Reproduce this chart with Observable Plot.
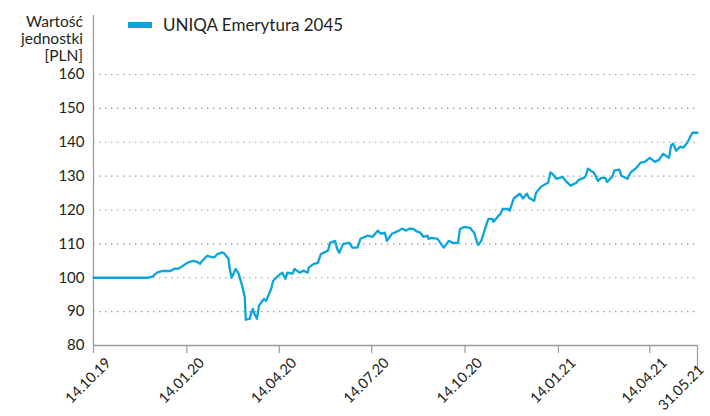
<!DOCTYPE html>
<html>
<head>
<meta charset="utf-8">
<script src="https://cdn.jsdelivr.net/npm/d3@7"></script>
<script src="https://cdn.jsdelivr.net/npm/@observablehq/plot@0.6"></script>
<style>
  html, body { margin: 0; padding: 0; background: #fff; }
  #wrap { position: relative; width: 710px; height: 416px; font-family: Lato, "Noto Sans", sans-serif; color: #231f20; overflow: hidden; }
  #legend { position: absolute; left: 128px; top: 14px; display: flex; align-items: center; font-size: 17px; }
  #legend .sw { width: 24px; height: 6px; background: #0aa5dc; margin-right: 11px; }
  #ytitle { position: absolute; right: 627px; top: 13px; text-align: right; font-size: 15.5px; line-height: 17px; }
</style>
</head>
<body>
<div id="wrap">
  <div id="chart"></div>
  <div id="ytitle">Wartość<br>jednostki<br>[PLN]</div>
  <div id="legend"><span class="sw"></span><span>UNIQA Emerytura 2045</span></div>
</div>
<script>
const seriesName = "UNIQA Emerytura 2045";
const dates = [
"2019-10-14","2019-12-06","2019-12-11","2019-12-16","2019-12-21","2019-12-29","2020-01-02","2020-01-06","2020-01-10","2020-01-15",
"2020-01-20","2020-01-24","2020-01-27","2020-01-29","2020-02-03","2020-02-06","2020-02-10","2020-02-13","2020-02-18","2020-02-20",
"2020-02-24","2020-02-25","2020-02-27","2020-02-28","2020-03-02","2020-03-05","2020-03-09","2020-03-11","2020-03-12","2020-03-16",
"2020-03-17","2020-03-19","2020-03-20","2020-03-23","2020-03-25","2020-03-27","2020-03-30","2020-04-01","2020-04-06","2020-04-08",
"2020-04-13","2020-04-17","2020-04-20","2020-04-22","2020-04-27","2020-04-29","2020-05-04","2020-05-08","2020-05-12","2020-05-13",
"2020-05-18","2020-05-22","2020-05-25","2020-06-01","2020-06-03","2020-06-08","2020-06-10","2020-06-12","2020-06-16","2020-06-22",
"2020-06-25","2020-06-30","2020-07-03","2020-07-10","2020-07-15","2020-07-20","2020-07-23","2020-07-27","2020-07-29","2020-08-03",
"2020-08-10","2020-08-13","2020-08-17","2020-08-20","2020-08-24","2020-08-28","2020-08-31","2020-09-03","2020-09-07","2020-09-08",
"2020-09-11","2020-09-17","2020-09-21","2020-09-23","2020-09-28","2020-10-02","2020-10-07","2020-10-09","2020-10-13","2020-10-19",
"2020-10-23","2020-10-26","2020-10-27","2020-10-30","2020-11-03","2020-11-06","2020-11-10","2020-11-11","2020-11-16","2020-11-18",
"2020-11-20","2020-11-26","2020-11-27","2020-12-01","2020-12-07","2020-12-10","2020-12-14","2020-12-16","2020-12-21","2020-12-23",
"2020-12-28","2021-01-04","2021-01-06","2021-01-08","2021-01-12","2021-01-18","2021-01-21","2021-01-26","2021-02-01","2021-02-03",
"2021-02-08","2021-02-10","2021-02-12","2021-02-18","2021-02-22","2021-02-25","2021-03-01","2021-03-03","2021-03-08","2021-03-10",
"2021-03-15","2021-03-17","2021-03-19","2021-03-23","2021-03-26","2021-04-01","2021-04-05","2021-04-09","2021-04-14","2021-04-19",
"2021-04-23","2021-04-27","2021-05-03","2021-05-05","2021-05-07","2021-05-10","2021-05-14","2021-05-17","2021-05-21","2021-05-26",
"2021-05-31"];
const values = [
100,100,100.3,101.6,102,102,102.7,102.7,103.5,104.5,
105,104.7,104.1,105,106.5,106.2,106,107,107.5,107.1,
105.6,103,100,100.6,102.6,101.2,97,94.2,87.6,87.9,
89.3,90.8,89.7,87.9,91.7,92.6,93.7,93.2,96.7,99.1,
100.6,101.5,99.7,101.5,101.2,102.6,101.5,102.1,101.5,103,
104.1,104.4,107,108,110.3,110.9,108.6,107.4,110,110.3,
108.9,108.9,111.5,112.4,112.1,113.9,113,113.3,110.9,113,
113.9,114.5,113.9,114.5,114.4,113.6,113.3,112.1,112.4,111.5,
111.8,111.5,109.7,108.9,110.9,110.3,110.3,114.4,115,114.7,
113.3,110.3,109.7,110.9,114.7,117.4,117.4,116.5,118.3,118.9,
120.3,120.3,119.8,123.4,124.8,123.4,124.8,123.6,122.7,125.1,
126.9,128.1,131.1,130.7,129.2,129.8,128.6,127.2,128.1,128.9,
129.5,130.1,132.2,131,128.6,129.5,129.5,128.3,129.8,131.6,
131.9,130.1,129.8,129.2,131,132.5,134,134.2,135.4,134.2,
134.8,136.6,135.4,139,139.6,137.5,138.7,138.4,139.9,142.8,
142.8];
const xTickDates = ["2019-10-14","2020-01-14","2020-04-14","2020-07-14","2020-10-14","2021-01-14","2021-04-14"];
const xLastTick = ["2021-05-31"];
const yTicks = [80,90,100,110,120,130,140,150,160];
const yGrid = [90,100,110,120,130,140,150,160];

const parse = d3.utcParse("%Y-%m-%d");
const data = dates.map((d, i) => ({date: parse(d), value: values[i]}));
const fmt = d3.utcFormat("%d.%m.%y");
const none = () => "";
const x0 = parse(dates[0]);
const x1 = parse(xLastTick[0]);
const lineColor = "#0aa5dc";
const axisColor = "#9a9a9a";

const chart = Plot.plot({
  width: 710,
  height: 416,
  marginLeft: 93,
  marginRight: 13,
  marginTop: 74,
  marginBottom: 71,
  style: {fontFamily: "Lato, 'Noto Sans', sans-serif", fontSize: "15px", color: "#231f20", background: "#fff"},
  x: {type: "utc", domain: [x0, x1]},
  y: {domain: [80, 160]},
  marks: [
    Plot.ruleY(yGrid, {stroke: "#9a9a9a", strokeWidth: 1.2, strokeDasharray: "1.5,4.5"}),
    Plot.axisY(yTicks, {tickSize: 0, tickPadding: 9, label: null, fontSize: 15, fill: "#231f20"}),
    Plot.axisX(xTickDates.map(parse), {tickSize: 8, stroke: axisColor, strokeWidth: 1.2, tickFormat: none, label: null}),
    Plot.axisX(xTickDates.map(parse), {tickSize: 0, tickFormat: fmt, tickRotate: -45, tickPadding: 11, dx: 15, dy: 4, label: null, fontSize: 14.5, fill: "#231f20"}),
    Plot.axisX(xLastTick.map(parse), {tickSize: 23, stroke: axisColor, strokeWidth: 1.2, tickFormat: none, label: null}),
    Plot.axisX(xLastTick.map(parse), {tickSize: 0, tickFormat: fmt, tickRotate: -45, tickPadding: 19, dx: 4, dy: 3, label: null, fontSize: 14.5, fill: "#231f20"}),
    Plot.ruleY([80], {stroke: axisColor, strokeWidth: 1.3}),
    Plot.ruleX([x0], {stroke: axisColor, strokeWidth: 1.3, insetTop: -59}),
    Plot.line(data, {x: "date", y: "value", stroke: lineColor, strokeWidth: 2.3, strokeLinejoin: "round"})
  ]
});
document.getElementById("chart").appendChild(chart);
</script>
</body>
</html>
